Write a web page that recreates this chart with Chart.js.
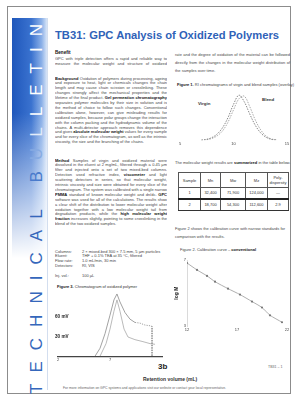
<!DOCTYPE html>
<html>
<head>
<meta charset="utf-8">
<script src="https://cdn.jsdelivr.net/npm/chart.js@4.4.0/dist/chart.umd.min.js"></script>
<style>
  body { margin:0; width:296px; height:399px; background:#fff; position:relative; overflow:hidden;
         font-family:"Liberation Sans", Arial, sans-serif; }
  .abs { position:absolute; }
  .txt { font-size:4px; line-height:4.9px; color:#474747; text-align:justify; overflow:hidden; }
  .txt b { color:#111; }
  #frame { left:7px; top:6px; width:282px; height:386px; border:1px solid #8c8c8c; }
  #bar { left:12px; top:18px; width:35px; height:372px; border-right:1px solid #d3deef;
         background:
           linear-gradient(to bottom, rgba(255,255,255,0) 0px, rgba(255,255,255,0) 95px, rgba(255,255,255,0.55) 175px, #fff 240px),
           linear-gradient(to right, #1f57bb 0%, #3a72cf 55%, #8cb1e8 85%, #d8e5f7 100%); }
  #barText { left:-148px; top:200px; width:370px; height:18px; transform:rotate(-90deg);
             display:flex; justify-content:space-between; align-items:center;
             font-size:17px; line-height:18px; }
  #title { left:55px; top:28.5px; font-size:11.2px; font-weight:bold; color:#2f62b8; white-space:nowrap; }
  table { border-collapse:collapse; font-size:4px; color:#333; }
  td { border:0.8px solid #555; text-align:center; padding:0; }
  canvas { position:absolute; }
</style>
</head>
<body>
<div id="frame" class="abs"></div>
<div id="bar" class="abs"></div>
<div id="barText" class="abs"></div>
<div id="title" class="abs">TB31: GPC Analysis of Oxidized Polymers</div>

<!-- left column -->
<div class="abs" style="left:55px;top:49.5px;font-size:4.6px;font-weight:bold;color:#111">Benefit</div>
<div class="abs txt" style="left:55px;top:57px;width:112px;height:10px">GPC with triple detection offers a rapid and reliable way to measure the molecular weight and structure of oxidized polymers.</div>
<div class="abs txt" style="left:55px;top:76.5px;width:112px;height:69px"><b>Background</b> Oxidation of polymers during processing, ageing and exposure to heat, light or chemicals changes the chain length and may cause chain scission or crosslinking. These changes strongly affect the mechanical properties and the lifetime of the final product. <b>Gel permeation chromatography</b> separates polymer molecules by their size in solution and is the method of choice to follow such changes. Conventional calibration alone, however, can give misleading results for oxidized samples, because polar groups change the interaction with the column packing and the hydrodynamic volume of the chains. A multi-detector approach removes this dependence and gives <b>absolute molecular weight</b> values for every sample and for every slice of the chromatogram, as well as the intrinsic viscosity, the size and the branching of the chains.</div>
<div class="abs txt" style="left:55px;top:158.5px;width:112px;height:78px"><b>Method</b> Samples of virgin and oxidized material were dissolved in the eluent at 2 mg/mL, filtered through a 0.45 µm filter and injected onto a set of two mixed-bed columns. Detection used refractive index, <b>viscometer</b> and light scattering detectors in series, so that molecular weight, intrinsic viscosity and size were obtained for every slice of the chromatogram. The system was calibrated with a single narrow <b>PMMA</b> standard of known molecular weight and dn/dc. <b>GPC</b> software was used for all of the calculations. The results show a clear shift of the distribution to lower molecular weight after oxidation together with a low molecular weight tail from degradation products, while the <b>high molecular weight fraction</b> increases slightly, pointing to some crosslinking in the blend of the two oxidized samples.</div>
<div class="abs" style="left:55px;top:249.5px;font-size:4px;line-height:4.8px;color:#444">Columns:<br>Eluent:<br>Flow rate:<br>Detectors:</div>
<div class="abs" style="left:82px;top:249.5px;font-size:4px;line-height:4.8px;color:#444">2 × mixed-bed 300 × 7.5 mm, 5 µm particles<br>THF + 0.1% TEA at 35 °C, filtered<br>1.0 mL/min, 30 min<br>RI, VIS</div>
<div class="abs" style="left:55px;top:273px;font-size:4px;color:#444">Inj. vol.:</div>
<div class="abs" style="left:82px;top:273px;font-size:4px;color:#444">100 µL</div>
<div class="abs" style="left:57px;top:283.5px;font-size:4px;color:#333"><b style="color:#111">Figure 3.</b> Chromatogram of oxidized polymer</div>

<!-- right column -->
<div class="abs" style="left:175px;top:50.5px;width:115px;font-size:4px;line-height:8px;color:#474747;text-align:justify">rate and the degree of oxidation of the material can be followed directly from the changes in the molecular weight distribution of the samples over time.</div>
<div class="abs" style="left:177px;top:81.5px;font-size:4px;color:#444;white-space:nowrap"><b style="color:#111">Figure 1.</b> RI chromatograms of virgin and blend samples (overlay)</div>
<div class="abs" style="left:198px;top:100.5px;font-size:4.4px;font-weight:bold;color:#333">Virgin</div>
<div class="abs" style="left:262px;top:96.5px;font-size:4.4px;font-weight:bold;color:#333">Blend</div>
<div class="abs" style="left:175px;top:159.5px;font-size:4px;color:#444;white-space:nowrap">The molecular weight results are <b style="color:#111">summarized</b> in the table below.</div>
<div class="abs" style="left:178px;top:172px" id="tblWrap"></div>
<div class="abs" style="left:175px;top:225px;width:115px;font-size:4px;line-height:7.5px;color:#474747">Figure 2 shows the calibration curve with narrow standards for comparison with the results.</div>
<div class="abs" style="left:180px;top:247px;font-size:4px;color:#444;white-space:nowrap">Figure 2. Calibration curve – <b style="color:#111">conventional</b></div>

<div class="abs" style="left:158px;top:362px;font-size:8px;font-weight:bold;color:#222">3b</div>
<div class="abs" style="left:143px;top:376px;font-size:5px;font-weight:bold;color:#333">Retention volume (mL)</div>
<div class="abs" style="left:268px;top:365px;font-size:3.6px;color:#666">TB31 – 1</div>
<div class="abs" style="left:63px;top:386px;width:220px;font-size:3.4px;color:#666;white-space:nowrap">For more information on GPC systems and applications visit our website or contact your local representative.</div>

<canvas id="fig1" class="abs" width="116" height="61" style="left:176px;top:86px;width:116px;height:61px"></canvas>
<canvas id="fig2" class="abs" width="122" height="79" style="left:170px;top:254px;width:122px;height:79px"></canvas>
<canvas id="fig3" class="abs" width="118" height="78" style="left:50px;top:286px;width:118px;height:78px"></canvas>

<script>
// Figure 1: RI overlay
const fig1Time   = [7.0, 7.5, 8.0, 8.5, 9.0, 9.5, 10.0, 10.5, 11.0, 11.5, 12.0, 12.5, 13.0, 13.5, 14.0];
const fig1Virgin = [0, 2, 6, 14, 28, 50, 78, 98, 84, 58, 34, 17, 7, 2, 0];
const fig1Blend  = [0, 1, 4, 10, 21, 40, 66, 90, 96, 74, 46, 24, 10, 3, 1];

// Figure 2: calibration curve
const calTime = [12.0, 13.0, 14.0, 14.8, 16.1, 17.3, 18.5, 19.5, 20.3, 21.5];
const calLogM = [6.82, 6.40, 6.04, 5.69, 5.27, 4.91, 4.49, 4.13, 3.66, 3.24];
const calTicks = [3, 7];

// Figure 3: chromatogram of oxidized polymer
const fig3TimeA   = [5.56, 6.04, 6.52, 7.0, 7.38, 7.67, 7.96, 8.44, 8.92, 9.4, 9.88, 10.37, 10.85, 11.04, 11.04];
const fig3SignalA = [0, 12, 34, 62, 85, 94, 82, 66, 56, 51, 50, 47, 46, 45, 0];
const fig3TimeB   = [6.04, 6.62, 7.0, 7.38, 7.67, 7.96, 8.35, 8.73, 9.4, 10.17, 10.85, 11.33];
const fig3SignalB = [0, 19, 41, 68, 85, 68, 41, 29, 25, 22, 19, 18];
const fig3LabelTicks = [30, 60];

// table
const tableHead = ["Sample", "Mn", "Mw", "Mz", "Poly-<br>dispersity"];
const tableRows = [
  ["1", "32,400", "71,900", "124,000", "—"],
  ["2", "18,700", "54,300", "112,600", "2.9"]
];
const colWidths = [22, 20, 25, 22, 21];

// side bar letters
const barLetters = "TECHNICAL BULLETIN".split("");
const barColors = ["#3567bb","#3567bb","#3567bb","#3567bb","#3567bb","#3567bb","#3567bb","#3567bb","#3567bb",
                   "#3567bb","#4a7bcc","#86aae2","#e3ecf9","#ffffff","#ffffff","#ffffff","#ffffff","#ffffff"];
const bt = document.getElementById("barText");
barLetters.forEach((ch, i) => {
  const s = document.createElement("span");
  s.textContent = ch === " " ? "\u00a0" : ch;
  s.style.color = barColors[i];
  bt.appendChild(s);
});

// table build
let html = '<table><colgroup>' + colWidths.map(w => `<col style="width:${w}px">`).join('') + '</colgroup>';
html += '<tr style="height:15px">' + tableHead.map(h => `<td>${h}</td>`).join('') + '</tr>';
tableRows.forEach((r, i) => {
  const st = i === 0 ? 'height:11px;border-bottom:2px solid #222' : 'height:12px;border-bottom:1.5px solid #333';
  html += `<tr style="${st}">` + r.map(c => `<td style="border-bottom:inherit">${c}</td>`).join('') + '</tr>';
});
html += '</table>';
document.getElementById("tblWrap").innerHTML = html;

Chart.defaults.font.family = "'Liberation Sans', Arial, sans-serif";
Chart.defaults.color = "#555";
const tickFont = { size: 4, lineHeight: 1.2 };
const base = {
  responsive: false, animation: false, devicePixelRatio: 1,
  plugins: { legend: { display: false }, tooltip: { enabled: false } }
};
const noGrid = () => ({ display: false, drawTicks: false, tickLength: 0 });

new Chart(document.getElementById("fig1"), {
  type: "line",
  data: {
    datasets: [
      { data: fig1Time.map((t, i) => ({ x: t, y: fig1Virgin[i] })), borderColor: "#7a7a7a", borderWidth: 0.9,
        borderDash: [1.5, 1.2], pointRadius: 0, tension: 0.35 },
      { data: fig1Time.map((t, i) => ({ x: t, y: fig1Blend[i] })), borderColor: "#a0a0a0", borderWidth: 0.9,
        borderDash: [1.5, 1.2], pointRadius: 0, tension: 0.35 }
    ]
  },
  options: {
    ...base,
    layout: { padding: { left: 4, right: 5, top: 6, bottom: 0 } },
    scales: {
      x: { type: "linear", min: 5, max: 15, grid: noGrid(), border: { display: false },
           ticks: { stepSize: 5, padding: 1, font: tickFont, color: "#444" } },
      y: { display: false, min: 0, max: 105 }
    }
  }
});

new Chart(document.getElementById("fig2"), {
  type: "line",
  data: {
    datasets: [
      { data: calTime.map((t, i) => ({ x: t, y: calLogM[i] })), borderColor: "#9a9a9a", borderWidth: 0.8,
        pointRadius: 1.1, pointBackgroundColor: "#777", pointBorderWidth: 0, tension: 0.2 }
    ]
  },
  options: {
    ...base,
    layout: { padding: { left: 4, right: 5, top: 6, bottom: 0 } },
    scales: {
      x: { type: "linear", min: 12, max: 22, grid: noGrid(), border: { display: false },
           ticks: { stepSize: 5, padding: 1, font: tickFont, color: "#444" } },
      y: { min: 3, max: 7, grid: noGrid(), border: { display: true, color: "#d0d0d0", width: 0.8 },
           afterBuildTicks: s => { s.ticks = calTicks.map(v => ({ value: v })); },
           ticks: { padding: 1, font: tickFont, color: "#444" },
           title: { display: true, text: "log M", padding: 0, font: { size: 5, weight: "bold" }, color: "#222" },
           afterFit: s => { s.width = 13; } }
    }
  }
});

new Chart(document.getElementById("fig3"), {
  type: "line",
  data: {
    datasets: [
      { data: fig3TimeA.map((t, i) => ({ x: t, y: fig3SignalA[i] })), borderColor: "#8a8a8a", borderWidth: 0.8,
        pointRadius: 0, tension: 0,
        segment: { borderDash: c => c.p0DataIndex >= 9 ? [1.2, 1.2] : undefined } },
      { data: fig3TimeB.map((t, i) => ({ x: t, y: fig3SignalB[i] })), borderColor: "#a8a8a8", borderWidth: 0.8,
        pointRadius: 0, tension: 0 }
    ]
  },
  options: {
    ...base,
    layout: { padding: { left: 8, right: 6, top: 4, bottom: 0 } },
    scales: {
      x: { type: "linear", min: 2, max: 12, grid: noGrid(), border: { display: true, color: "#444", width: 1.3 },
           ticks: { stepSize: 5, padding: 1.5, font: tickFont, color: "#444", callback: v => v === 12 ? "" : v } },
      y: { min: 0, max: 100, grid: noGrid(), border: { display: false },
           ticks: { stepSize: 30, mirror: true, padding: -3, font: { size: 4.6, weight: "bold" }, color: "#222",
                    callback: v => fig3LabelTicks.includes(v) ? v + " mV" : "" },
           afterFit: s => { s.width = 0; } }
    }
  }
});
</script>
</body>
</html>
